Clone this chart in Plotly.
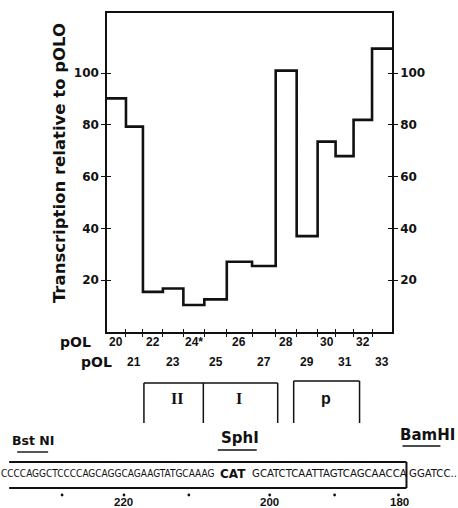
import plotly.graph_objects as go

# ---------------- data ----------------
constructs = [20, 21, 22, 23, 24, 25, 26, 27, 28, 29, 30, 31, 32, 33]
construct_labels = ["20", "21", "22", "23", "24*", "25", "26", "27", "28", "29", "30", "31", "32", "33"]
transcription = [90.2, 79.3, 15.5, 16.8, 10.4, 12.6, 27.1, 25.5, 100.9, 37.0, 73.5, 67.9, 81.9, 109.4]
segment_widths = [19, 17, 20, 20.5, 21, 22.5, 25.3, 23.7, 21, 21, 18, 18, 18.5, 20]
y_ticks = [20, 40, 60, 80, 100]

sequence_left = "CCCCAGGCTCCCCAGCAGGCAGAAGTATGCAAAG"
sequence_bold = "CAT"
sequence_right = "GCATCTCAATTAGTCAGCAACCA"
sequence_tail = "GGATCC.."
position_labels = ["220", "200", "180"]
sites = ["Bst NI", "SphI", "BamHI"]
regions = ["II", "I", "p"]

# ---------------- geometry helpers ----------------
W, H = 458, 508
L, R, T, B = 107, 392.5, 13, 332


def px(x):
    return (x - L) / (R - L)


def py(y):
    return (B - y) / (B - T)


edges = [0.0]
for w in segment_widths:
    edges.append(edges[-1] + w)
centers = [(edges[i] + edges[i + 1]) / 2 for i in range(len(segment_widths))]

INK = "#111111"
BOLD = "DejaVu Sans"
ARIAL = "Liberation Sans, Arial, sans-serif"
NARROW = "Liberation Sans Narrow, DejaVu Sans Condensed, Arial Narrow, sans-serif"

fig = go.Figure()
fig.add_trace(go.Scatter(
    x=edges[:-1] + [edges[-1]],
    y=transcription + [transcription[-1]],
    mode="lines", line=dict(shape="hv", color=INK, width=2.6),
    showlegend=False, hoverinfo="skip", cliponaxis=False,
))
for xa, ya in [("x2", "y"), ("x", "y2"), ("x", "y3"), ("x", "y4")]:
    fig.add_trace(go.Scatter(x=[None], y=[None], xaxis=xa, yaxis=ya,
                             showlegend=False, hoverinfo="skip"))

xr = [0, edges[-1]]
yr = [0, (B - T) / 2.59]
tickfont = dict(family=BOLD, size=12, color=INK, weight="bold")
common_y = dict(range=yr, tickvals=y_ticks, showgrid=False, zeroline=False,
                tickcolor=INK, tickwidth=1.4, ticklen=4, fixedrange=True)

annotations = []
shapes = []

fig.update_layout(
    width=W, height=H,
    margin=dict(l=L, r=W - R, t=T, b=H - B, pad=0),
    paper_bgcolor="white", plot_bgcolor="white",
    xaxis=dict(range=xr, tickvals=edges[1:-1], showticklabels=False,
               ticks="outside", ticklen=3, tickwidth=1.4, tickcolor=INK,
               showline=True, linecolor=INK, linewidth=1.5, mirror=True,
               showgrid=False, zeroline=False, fixedrange=True),
    xaxis2=dict(range=xr, overlaying="x", side="bottom", anchor="y",
                tickvals=edges[1:-1], showticklabels=False,
                ticks="inside", ticklen=3, tickwidth=1.4, tickcolor=INK,
                showline=False, showgrid=False, zeroline=False, fixedrange=True),
    yaxis=dict(**common_y, side="left", ticks="outside", showticklabels=True,
               tickfont=tickfont, showline=True, linecolor=INK, linewidth=1.5),
    yaxis2=dict(**common_y, overlaying="y", side="left", anchor="x",
                ticks="inside", showticklabels=False, showline=False),
    yaxis3=dict(**common_y, overlaying="y", side="right", anchor="x",
                ticks="outside", showticklabels=True, tickfont=tickfont,
                showline=True, linecolor=INK, linewidth=1.5),
    yaxis4=dict(**common_y, overlaying="y", side="right", anchor="x",
                ticks="inside", showticklabels=False, showline=False),
)

# y title
annotations.append(dict(text="Transcription relative to pOLO", textangle=-90,
                        xref="paper", yref="paper", x=px(59), y=py(163),
                        xanchor="center", yanchor="middle", showarrow=False,
                        font=dict(family=BOLD, size=16.5, color=INK, weight="bold")))

# construct labels (two staggered rows)
row_y = [342, 362]
numfont = dict(family=ARIAL, size=12, color=INK, weight="bold")
for i, lab in enumerate(construct_labels):
    annotations.append(dict(text=lab, xref="x", yref="paper", x=centers[i],
                            y=py(row_y[i % 2]), xanchor="center", yanchor="middle",
                            showarrow=False, font=numfont))
for ry, cx in zip(row_y, [75, 96]):
    annotations.append(dict(text="pOL", xref="paper", yref="paper", x=px(cx), y=py(ry),
                            xanchor="center", yanchor="middle", showarrow=False,
                            font=dict(family=BOLD, size=14, color=INK, weight="bold")))

# region boxes
def line(x0, y0, x1, y1, w=1.5):
    shapes.append(dict(type="line", xref="paper", yref="paper",
                       x0=px(x0), y0=py(y0), x1=px(x1), y1=py(y1),
                       line=dict(color=INK, width=w)))

line(144, 383, 278, 383)
for xv in [144, 203.5, 278]:
    line(xv, 383, xv, 423)
line(294, 381, 360, 381)
for xv in [294, 360]:
    line(xv, 381, xv, 423)
for lab, cx, fam in zip(regions, [177, 239, 326],
                        ["Liberation Serif, Times New Roman, serif",
                         "Liberation Serif, Times New Roman, serif", ARIAL]):
    annotations.append(dict(text=lab, xref="paper", yref="paper", x=px(cx), y=py(398),
                            xanchor="center", yanchor="middle", showarrow=False,
                            font=dict(family=fam, size=16, color=INK, weight="bold")))

# restriction sites
site_pos = [(33, 440, 12.5, 17, 48, 452), (240, 438, 15, 218, 257, 450), (428, 435, 15, 403, 441, 446)]
for lab, (cx, cy, fs, u0, u1, uy) in zip(sites, site_pos):
    annotations.append(dict(text=lab, xref="paper", yref="paper", x=px(cx), y=py(cy),
                            xanchor="center", yanchor="middle", showarrow=False,
                            font=dict(family=BOLD, size=fs, color=INK, weight="bold")))
    line(u0, uy, u1, uy, 1.4)

# sequence box
line(9, 462, 407, 462, 2)
line(9, 488, 407, 488, 2)
line(407, 462, 407, 488, 2)

annotations.append(dict(text=sequence_left, xref="paper", yref="paper", x=px(216), y=py(474),
                        xanchor="right", yanchor="middle", showarrow=False,
                        font=dict(family=NARROW, size=10.0, color=INK)))
annotations.append(dict(text=sequence_bold, xref="paper", yref="paper", x=px(233), y=py(474),
                        xanchor="center", yanchor="middle", showarrow=False,
                        font=dict(family=BOLD, size=12, color=INK, weight="bold")))
annotations.append(dict(text=sequence_right, xref="paper", yref="paper", x=px(250), y=py(474),
                        xanchor="left", yanchor="middle", showarrow=False,
                        font=dict(family=NARROW, size=11.3, color=INK)))
annotations.append(dict(text=sequence_tail, xref="paper", yref="paper", x=px(407.5), y=py(474),
                        xanchor="left", yanchor="middle", showarrow=False,
                        font=dict(family=NARROW, size=11.3, color=INK)))

for xv in [62, 124, 189, 270, 335, 399]:
    shapes.append(dict(type="circle", xref="paper", yref="paper",
                       x0=px(xv - 1.4), x1=px(xv + 1.4), y0=py(495 - 1.4), y1=py(495 + 1.4),
                       fillcolor=INK, line=dict(width=0)))
for lab, xv in zip(position_labels, [124, 270, 400]):
    annotations.append(dict(text=lab, xref="paper", yref="paper", x=px(xv), y=py(501.5),
                            xanchor="center", yanchor="middle", showarrow=False,
                            font=dict(family=ARIAL, size=11.5, color=INK, weight="bold")))

fig.update_layout(annotations=annotations, shapes=shapes)
fig.write_html("out.html", config={"displayModeBar": False},
               post_script="document.body.style.margin='0';document.body.style.overflow='hidden';")
